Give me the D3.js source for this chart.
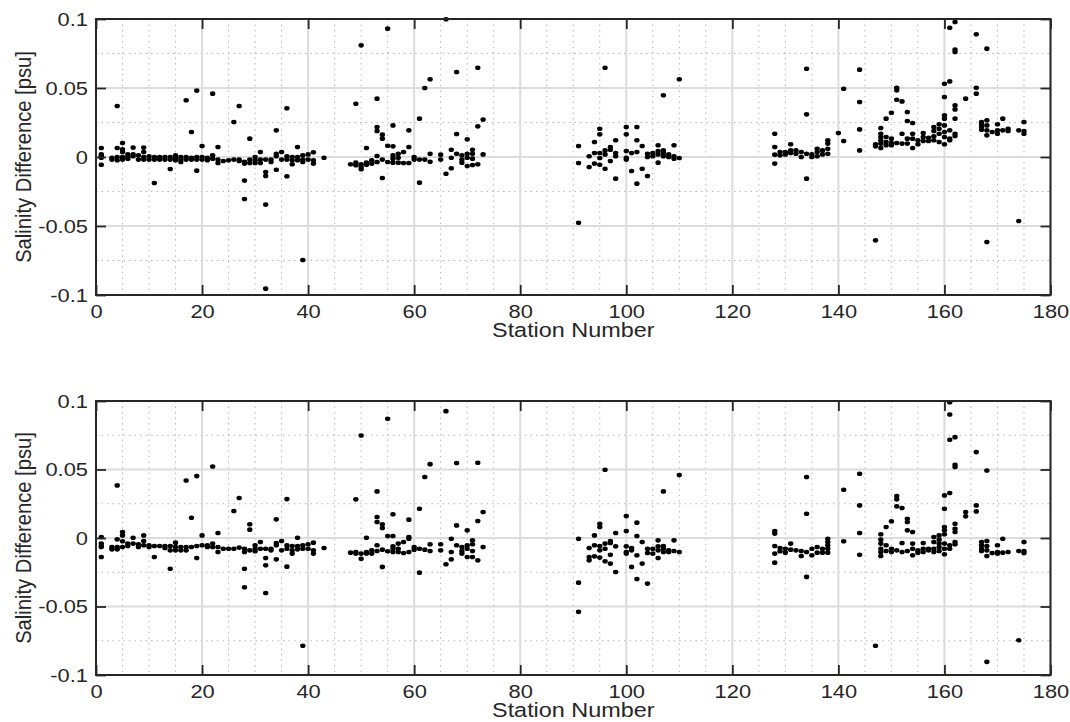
<!DOCTYPE html>
<html><head><meta charset="utf-8">
<script src="https://cdn.jsdelivr.net/npm/d3@7"></script>
<style>body{margin:0;background:#fff} svg{display:block}</style>
</head><body><svg id="c" width="1070" height="722"></svg>
<script>
const xTicks = [0, 20, 40, 60, 80, 100, 120, 140, 160, 180];
const yTicks = [-0.1, -0.05, 0, 0.05, 0.1];
const xMinorTicks = [5,10,15,25,30,35,45,50,55,65,70,75,85,90,95,105,110,115,125,130,135,145,150,155,165,170,175];
const yMinorTicks = [-0.075, -0.025, 0.025, 0.075];
const xLabel = "Station Number";
const yLabel = "Salinity Difference [psu]";

const stationsTop = [1,3,4,5,6,7,8,9,10,11,12,13,14,15,16,17,18,19,20,21,22,23,24,25,26,27,28,29,30,31,32,33,34,35,36,37,38,39,40,41,43,
 48,49,50,51,52,53,54,55,56,57,58,59,60,61,62,63,65,66,67,68,69,70,71,72,73,
 91,93,94,95,96,97,98,100,101,102,103,104,105,106,107,108,109,110,
 128,129,130,131,132,133,134,135,136,137,138,140,141,144,147,148,149,150,151,152,153,154,155,156,157,158,159,160,161,162,164,166,167,168,169,170,171,172,174,175];
const valuesTop = [
 [0.0065,0.0019,0.0005,-0.0005,-0.0056],[-0.0005,-0.0019],[0.037,0.0065,0.0,-0.0024],[0.0101,0.0056,0.0036,0.0,-0.0019],
 [0.0019,0.0,-0.0012],[0.0068,0.0019,0.0005],[0.0012,-0.0019],[0.0068,0.0036,0.0,-0.0019],[0.0005,-0.0019],
 [0.0,-0.0019,-0.0188],[0.0,-0.0019],[0.0,-0.0019],[0.0,-0.0019,-0.0087],[0.0012,-0.0005,-0.0024],[0.0,-0.0019,-0.0036],
 [0.0411,0.0,-0.0019],[0.0181,-0.0005,-0.0019],[0.0481,0.0,-0.0019,-0.0099],[0.008,0.0,-0.0019],[-0.0005,-0.0024],
 [0.0459,0.0012,-0.0012],[0.0072,-0.0019,-0.0043],[-0.0029],[-0.0024],[0.0254,-0.0019],[0.037,-0.0019,-0.0029],
 [-0.0034,-0.0048,-0.0171,-0.0304],[0.0133,-0.0019,-0.0043],[0.0,-0.0024,-0.0043],[0.0036,-0.0019,-0.0043],
 [-0.0019,-0.0109,-0.0138,-0.0345,-0.0954],[-0.0019,-0.0036],[0.0193,0.0024,0.0005,-0.0092],[0.0036,-0.0019],
 [0.0353,0.0005,-0.0019,-0.014],[0.0,-0.0024,-0.0053],[0.0072,0.0,-0.0024],[0.0012,-0.0019,-0.0036,-0.0746],
 [0.0019,-0.0019],[0.0034,-0.0024,-0.0048],[-0.0005],
 [-0.0053],[0.0386,-0.0041,-0.006],[0.0809,-0.0053,-0.0072,-0.0089],[0.0065,-0.0041,-0.0056],[-0.0024,-0.0048],
 [0.0423,0.0217,0.0188,0.0007,-0.0036],[0.0162,0.0133,-0.0019,-0.0152],[0.093,0.0082,-0.0036],
 [0.0229,0.0077,0.0012,-0.0012,-0.0041],[0.0024,-0.0005,-0.0041],[0.0036,-0.0043],[0.0193,0.0072,-0.0043],
 [0.0,-0.0019],[0.0278,-0.0019,-0.0186],[0.05,-0.0019],[0.0563,0.0024,-0.0034],[0.0017,-0.0019],[0.0998,-0.0121],
 [0.0053,-0.0005,-0.0082],[0.0616,0.0167,0.0024],[0.0012,-0.0019,-0.0041],[0.0128,0.0024,-0.0005,-0.0065],
 [0.0053,0.0024,-0.0012,-0.0058],[0.0647,0.0222,-0.0053],[0.0271,0.0019],
 [0.008,-0.0043,-0.0476],[0.0005,-0.0072],[0.0109,0.0029,-0.0048],[0.0205,0.0164,0.0029,-0.0007,-0.0056],
 [0.0647,0.0048,0.0019,-0.0085],[0.0072,0.0053,-0.0029],[0.0121,0.0029,0.0005,-0.0157],
 [0.0217,0.0164,0.0043,-0.0005,-0.0019],[0.0029,-0.0101],[0.0217,0.0121,0.0036,-0.0193],[0.008,-0.0085],
 [0.0024,0.0,-0.0138],[0.0029,0.0005],[0.0085,0.0043,0.0019,-0.0041],[0.0447,0.0048,0.0029,0.0005],
 [0.0019,0.0],[0.0085,0.0005,-0.0012],[0.0563,-0.0007],
 [0.0169,0.0072,0.0017,-0.0048],[0.0036,0.0012],[0.0036,0.0019],[0.0092,0.0048,0.0029],[0.0048,0.0024],
 [0.0036,0.0],[0.064,0.0309,0.0024,-0.0157],[0.0019,0.0],[0.006,0.0036,0.0005],[0.0048,0.0019],
 [0.0121,0.0097,0.006,0.0024],[0.0174],[0.0495,0.0116],[0.0633,0.0399,0.02,0.0048],[0.0092,0.0077,-0.0604],
 [0.021,0.0169,0.0145,0.0121,0.0097,0.0065],[0.0278,0.0145,0.0109,0.0085],[0.0321,0.0133,0.0101,0.0085],
 [0.0502,0.0483,0.0415,0.0101],[0.0403,0.0169,0.0097],[0.0326,0.0261,0.0133,0.0097],[0.0246,0.0169,0.0133,0.0065],
 [0.0121,0.0092],[0.0174,0.0145,0.0116],[0.014,0.0116],[0.0217,0.0188,0.015,0.0121],[0.0237,0.0205,0.0169,0.0109],
 [0.0531,0.0435,0.0302,0.0278,0.0229,0.0181,0.0145,0.0092],[0.0937,0.0548,0.0193,0.0133,0.0121],
 [0.0978,0.0778,0.0761,0.0374,0.0345,0.0278,0.0169,0.0152],[0.0423],[0.0889,0.0502,0.0459],
 [0.0254,0.0237,0.0217,0.0198],[0.0785,0.0266,0.0229,0.0193,0.0157,-0.0616],[0.0181],[0.0237,0.0193,0.0169],
 [0.0278,0.0193],[0.0205,0.0188],[0.0193,-0.0464],[0.0254,0.0188,0.0169]
];

const stationsBottom = [1,3,4,5,6,7,8,9,10,11,12,13,14,15,16,17,18,19,20,21,22,23,24,25,26,27,28,29,30,31,32,33,34,35,36,37,38,39,40,41,43,
 48,49,50,51,52,53,54,55,56,57,58,59,60,61,62,63,65,66,67,68,69,70,71,72,73,
 91,93,94,95,96,97,98,100,101,102,103,104,105,106,107,108,109,110,
 128,129,130,131,132,133,134,135,136,137,138,141,144,147,148,149,150,151,152,153,154,155,156,157,158,159,160,161,162,164,166,167,168,169,170,171,172,174,175];
const valuesBottom = [
 [0.0007,-0.0041,-0.0058,-0.0066,-0.0139],[-0.0066,-0.0083],[0.0384,-0.001,-0.0066,-0.0083],[0.0044,0.0019,-0.0024,-0.0066],
 [-0.0041,-0.0058],[0.0002,-0.0041],[-0.0046,-0.0066],[0.0019,-0.0022,-0.0053],[-0.0053,-0.0066],[-0.0058,-0.0139],
 [-0.0058],[-0.0058,-0.0073],[-0.0058,-0.009,-0.0224],[-0.0034,-0.0066,-0.009],[-0.0066,-0.009],[0.042,-0.0066,-0.009],
 [0.0148,-0.0066],[0.0452,-0.0058,-0.0146],[0.0019,-0.0053],[-0.0053,-0.0066],[0.0522,-0.0041,-0.0066],
 [0.0036,-0.0066,-0.0102],[-0.0078],[-0.0078],[0.0197,-0.0078],[0.0292,-0.007],[-0.0078,-0.0102,-0.0224,-0.036],
 [0.01,0.0061,-0.009],[-0.0053,-0.0078,-0.0097],[-0.0029,-0.0078],[-0.0078,-0.0146,-0.0199,-0.0401],[-0.0078,-0.009],
 [0.0136,-0.0036,-0.0053,-0.0156],[-0.0022,-0.009],[0.0284,-0.0053,-0.0078,-0.0209],[-0.0058,-0.009,-0.0114],
 [0.0002,-0.0058,-0.0083],[-0.0053,-0.0078,-0.0787],[-0.0046,-0.0078],[-0.0034,-0.009,-0.0114],[-0.0073],
 [-0.0107],[0.0282,-0.0102,-0.0114],[0.0748,-0.0114,-0.0151],[0.0002,-0.0102,-0.0114],[-0.009,-0.0114],
 [0.034,0.0153,0.0117,-0.0053,-0.0095],[0.01,0.0073,-0.0085,-0.0211],[0.087,0.0015,-0.0097],
 [0.0173,0.0015,-0.0061,-0.0078,-0.0102],[-0.0041,-0.0078,-0.0102],[-0.0029,-0.0109],[0.0134,0.0007,-0.0005,-0.0102],
 [-0.0066,-0.0085],[0.0214,-0.0078,-0.0253],[0.0445,-0.0085],[0.0539,-0.0046,-0.0095],[-0.0046,-0.009],[0.0926,-0.0192],
 [-0.0005,-0.0102,-0.0156],[0.0547,0.0092,-0.0053],[-0.0066,-0.0095,-0.0114],[0.0056,-0.0053,-0.0078,-0.0139],
 [-0.0017,-0.0046,-0.0095,-0.0139],[0.0549,0.0124,-0.0163],[0.019,-0.0066],
 [-0.0005,-0.0326,-0.0539],[-0.0073,-0.0139,-0.0163],[0.0019,-0.0053,-0.0134],[0.0104,0.008,-0.0058,-0.009,-0.0143],
 [0.0498,-0.0041,-0.0078,-0.017],[-0.0022,-0.0036,-0.0122,-0.0187],[0.0036,-0.0061,-0.0248],
 [0.016,0.0051,-0.0061,-0.0102,-0.0114],[-0.0073,-0.009,-0.0211],[0.0112,0.0015,-0.0126,-0.0299],[-0.0029,-0.0187],
 [-0.0078,-0.0109,-0.0333],[-0.0078,-0.0114],[-0.0017,-0.0061,-0.009,-0.0146],[0.034,-0.0058,-0.0078,-0.0102],
 [-0.009,-0.0102],[-0.0017,-0.0095],[0.0459,-0.0102],
 [0.0051,0.0032,-0.0058,-0.0114,-0.018],[-0.0073,-0.0097],[-0.0078,-0.0107],[-0.0041,-0.0085],[-0.009],
 [-0.0095,-0.0131],[0.0445,0.0177,-0.0102,-0.0284],[-0.0078,-0.0126],[-0.0066,-0.0107],[-0.0078,-0.0107],
 [-0.0005,-0.0029,-0.0053,-0.0078,-0.0107],[0.0352,-0.0024],[0.0469,0.0238,0.0036,-0.0122],[-0.0787],
 [0.0027,-0.0012,-0.0041,-0.0078,-0.0102,-0.0131],[0.008,-0.0053,-0.0095],[0.0122,-0.0078,-0.0102],
 [0.0306,0.0282,0.0231,-0.009],[0.0219,-0.0036,-0.0102],[0.0141,0.0117,0.0056,-0.0095],[0.0044,-0.0041,-0.0078,-0.0126],
 [-0.009,-0.0107],[-0.0036,-0.0078,-0.0102],[-0.0078,-0.009],[0.0007,-0.0029,-0.0078,-0.0102],
 [0.0019,-0.0012,-0.0041,-0.0066,-0.0095],[0.0311,0.0214,0.008,0.0056,0.0027,-0.0041,-0.0078,-0.0119],
 [0.0991,0.0902,0.0717,0.0328,-0.0053,-0.0078],[0.0736,0.0535,0.0518,0.0104,0.0068,0.0044,-0.0029,-0.0046],
 [0.019,0.0158],[0.0627,0.0238,0.0194],[-0.0029,-0.0053,-0.0078,-0.0095],[0.0493,-0.0022,-0.0058,-0.009,-0.0131,-0.0904],
 [-0.0109],[-0.0053,-0.0102,-0.0114],[-0.0005,-0.0107],[-0.0102],[-0.0095,-0.0746],[-0.0029,-0.0095,-0.0109]
];

const svg = d3.select("#c");
const FONT = "'Liberation Sans', Arial, Helvetica, sans-serif";
const TXT = "#262626";
const SX = 1.25;
const x = d3.scaleLinear().domain([0, 180]).range([96, 1050.5]);

function panel(top, bottom, stations, values) {
  const y = d3.scaleLinear().domain([-0.1, 0.1]).range([bottom, top]);
  const g = svg.append("g");
  const L = x.range()[0], R = x.range()[1];
  // minor grid
  g.append("g").selectAll("line").data(xMinorTicks).join("line")
    .attr("x1", d => x(d)).attr("x2", d => x(d)).attr("y1", top).attr("y2", bottom)
    .attr("stroke", "#b8b8b8").attr("stroke-width", 1).attr("stroke-dasharray", "1.5,4");
  g.append("g").selectAll("line").data(yMinorTicks).join("line")
    .attr("y1", d => y(d)).attr("y2", d => y(d)).attr("x1", L).attr("x2", R)
    .attr("stroke", "#b8b8b8").attr("stroke-width", 1).attr("stroke-dasharray", "1.5,4");
  // major grid
  g.append("g").selectAll("line").data(xTicks).join("line")
    .attr("x1", d => x(d)).attr("x2", d => x(d)).attr("y1", top).attr("y2", bottom)
    .attr("stroke", "#dcdcdc").attr("stroke-width", 2);
  g.append("g").selectAll("line").data(yTicks).join("line")
    .attr("y1", d => y(d)).attr("y2", d => y(d)).attr("x1", L).attr("x2", R)
    .attr("stroke", "#dcdcdc").attr("stroke-width", 2);

  // points
  const pts = stations.flatMap((s, i) => values[i].map(v => ({ s, v })));
  g.append("g").selectAll("ellipse").data(pts).join("ellipse")
    .attr("cx", d => x(d.s)).attr("cy", d => y(d.v)).attr("rx", 2.7).attr("ry", 2.3).attr("fill", "#000");

  // axes
  const ax = (sel) => { sel.select(".domain").remove(); sel.selectAll(".tick line").attr("stroke", TXT).attr("stroke-width", 1.8); };
  const gb = g.append("g").attr("transform", `translate(0,${bottom})`)
    .call(d3.axisBottom(x).tickValues(xTicks).tickSize(-10).tickFormat(d => String(d))).call(ax);
  gb.selectAll("text").attr("y", 0).attr("dy", 0).attr("transform", `translate(0,22.5) scale(${SX},1)`)
    .attr("font-family", FONT).attr("font-size", 17.5).attr("fill", TXT);
  g.append("g").attr("transform", `translate(0,${top})`)
    .call(d3.axisTop(x).tickValues(xTicks).tickSize(-10).tickFormat("")).call(ax);
  const gl = g.append("g").attr("transform", `translate(${L},0)`)
    .call(d3.axisLeft(y).tickValues(yTicks).tickSize(-10).tickFormat(d => String(d))).call(ax);
  gl.selectAll("text").attr("x", 0).attr("dy", "0.36em").attr("transform", `translate(-8,0) scale(${SX},1)`)
    .attr("font-family", FONT).attr("font-size", 17.5).attr("fill", TXT).attr("text-anchor", "end");
  g.append("g").attr("transform", `translate(${R},0)`)
    .call(d3.axisRight(y).tickValues(yTicks).tickSize(-10).tickFormat("")).call(ax);

  // box
  g.append("rect").attr("x", L).attr("y", top).attr("width", R - L).attr("height", bottom - top)
    .attr("fill", "none").attr("stroke", TXT).attr("stroke-width", 2);

  // labels
  g.append("text").attr("transform", `translate(${(L + R) / 2},${bottom + 41.5}) scale(1.2,1)`)
    .attr("text-anchor", "middle").attr("font-family", FONT).attr("font-size", 19.5).attr("fill", TXT).text(xLabel);
  g.append("text").attr("transform", `translate(31,${(top + bottom) / 2}) scale(1.12,1) rotate(-90)`)
    .attr("text-anchor", "middle").attr("font-family", FONT).attr("font-size", 20.2).attr("fill", TXT).text(yLabel);
}

panel(19, 295, stationsTop, valuesTop);
panel(401, 675, stationsBottom, valuesBottom);
</script></body></html>
